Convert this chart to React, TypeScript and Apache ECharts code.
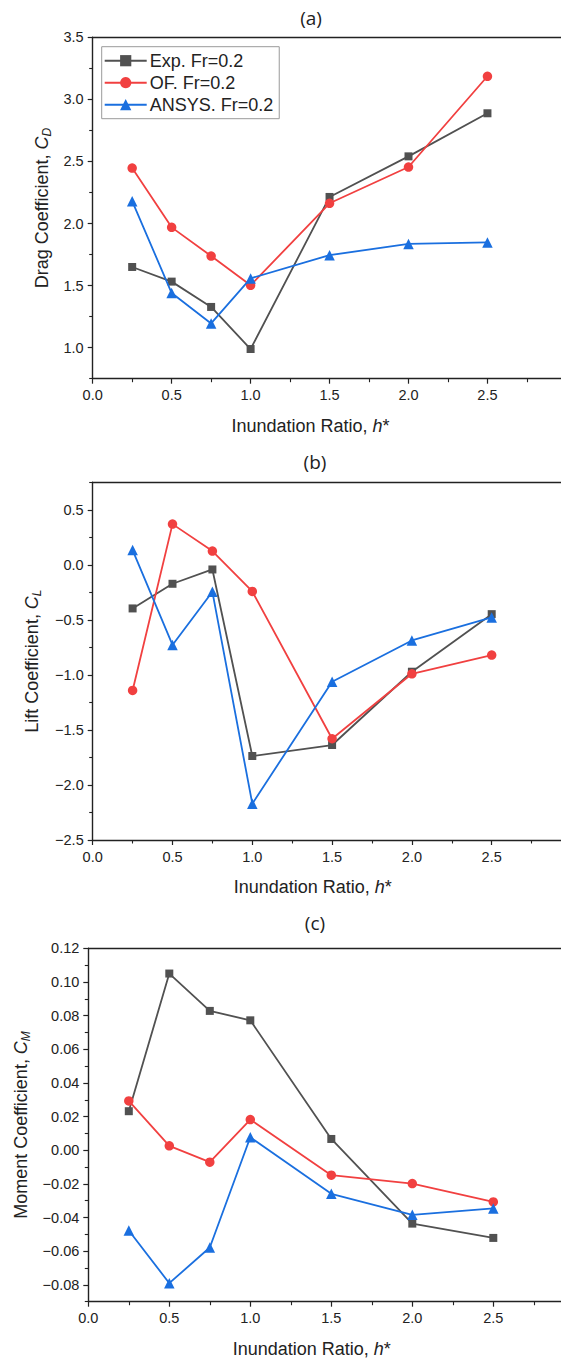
import React, { useEffect, useRef } from "react";
import * as echarts from "echarts";

const hRatio = [0.25, 0.5, 0.75, 1.0, 1.5, 2.0, 2.5];

const dragExp = [1.65, 1.532, 1.328, 0.989, 2.214, 2.541, 2.888];
const dragOF = [2.447, 1.969, 1.738, 1.502, 2.163, 2.455, 3.186];
const dragANSYS = [2.18, 1.44, 1.195, 1.558, 1.745, 1.836, 1.848];

const liftExp = [-0.396, -0.172, -0.042, -1.737, -1.637, -0.971, -0.448];
const liftOF = [-1.141, 0.37, 0.125, -0.242, -1.58, -0.99, -0.82];
const liftANSYS = [0.134, -0.728, -0.245, -2.17, -1.062, -0.687, -0.478];

const momExp = [0.0232, 0.105, 0.0828, 0.0772, 0.0067, -0.0436, -0.0521];
const momOF = [0.0293, 0.0026, -0.0071, 0.0182, -0.0148, -0.0198, -0.0307];
const momANSYS = [-0.0477, -0.079, -0.0578, 0.0077, -0.0259, -0.0384, -0.0346];

const xMajor = [0, 0.5, 1.0, 1.5, 2.0, 2.5, 3.0];
const xLabels = [0, 0.5, 1.0, 1.5, 2.0, 2.5];
const xMinor = [0.25, 0.75, 1.25, 1.75, 2.25, 2.75];
const dragMajor = [1.0, 1.5, 2.0, 2.5, 3.0, 3.5];
const dragMinor = [0.75, 1.25, 1.75, 2.25, 2.75, 3.25];
const liftMajor = [-2.5, -2.0, -1.5, -1.0, -0.5, 0.0, 0.5];
const liftMinor = [-2.25, -1.75, -1.25, -0.75, -0.25, 0.25, 0.75];
const momMajor = [-0.08, -0.06, -0.04, -0.02, 0.0, 0.02, 0.04, 0.06, 0.08, 0.1, 0.12];
const momMinor = [-0.09, -0.07, -0.05, -0.03, -0.01, 0.01, 0.03, 0.05, 0.07, 0.09, 0.11];

const seriesNames = ["Exp. Fr=0.2", "OF. Fr=0.2", "ANSYS. Fr=0.2"];
const colors = ["#515151", "#F14040", "#1A6FDF"];
const symbols = ["rect", "circle", "triangle"];
const symbolSizes = [8, 9.5, 10.5];

const FONT = "Liberation Sans";
const AX = "#222";
const XMAX = 3.1;

function fmt(v: number, d: number) {
  const s = v.toFixed(d);
  return v < 0 ? "\u2212" + s.slice(1) : s;
}

export default function App() {
  const ref = useRef<HTMLDivElement>(null);
  useEffect(() => {
    if (!ref.current) return;
    const chart = echarts.init(ref.current, undefined, { renderer: "svg" });

    // pixel per unit of h* in each panel
    const units = [157.9, 159.6, 162];
    const nameTarget = [310.5, 312.8, 311.7];
    const grids = [
      { left: 92.7, top: 37.3, height: 341.4 },
      { left: 92.7, top: 482.3, height: 357.7 },
      { left: 88.3, top: 948.3, height: 353.4 },
    ].map((g, k) => ({ ...g, width: units[k] * XMAX }));
    const yDefs = [
      { min: 0.75, max: 3.5, major: dragMajor, minor: dragMinor, dec: 1, label: "Drag Coefficient, ", sub: "D", gap: 40 },
      { min: -2.5, max: 0.75, major: liftMajor, minor: liftMinor, dec: 1, label: "Lift Coefficient, ", sub: "L", gap: 50 },
      { min: -0.09, max: 0.12, major: momMajor, minor: momMinor, dec: 2, label: "Moment Coefficient, ", sub: "M", gap: 56 },
    ];
    const data = [
      [dragExp, dragOF, dragANSYS],
      [liftExp, liftOF, liftANSYS],
      [momExp, momOF, momANSYS],
    ];

    const xAxes: any[] = [];
    const yAxes: any[] = [];
    const series: any[] = [];
    const nameRich = {
      a: { fontSize: 18, fontFamily: FONT, color: "#222", lineHeight: 22 },
      i: { fontSize: 18, fontFamily: FONT, color: "#222", fontStyle: "italic", lineHeight: 22 },
      s: { fontSize: 12, fontFamily: FONT, color: "#222", fontStyle: "italic", lineHeight: 12, verticalAlign: "bottom" },
    };
    grids.forEach((g, k) => {
      const y = yDefs[k];
      const shift = 2 * (g.left + g.width / 2 - nameTarget[k]);
      xAxes.push({
        type: "value", gridIndex: k, min: 0, max: XMAX, position: "bottom",
        axisLine: { show: true, onZero: false, lineStyle: { color: AX, width: 1.4 } },
        axisTick: { show: true, inside: false, length: 5, customValues: xMajor, lineStyle: { color: AX, width: 1.2 } },
        axisLabel: { customValues: xLabels, formatter: (v: number) => fmt(v, 1), fontSize: 14.5, fontFamily: FONT, color: "#222", margin: 9 },
        splitLine: { show: false },
        name: "{a|Inundation Ratio, }{i|h}{a|*}",
        nameLocation: "middle", nameGap: 36,
        nameTextStyle: { rich: nameRich, padding: [0, shift, 0, 0] },
      });
      xAxes.push({
        type: "value", gridIndex: k, min: 0, max: XMAX, position: "top",
        axisLine: { show: true, onZero: false, lineStyle: { color: AX, width: 1.4 } },
        axisTick: { show: false },
        axisLabel: { show: false },
        splitLine: { show: false },
      });
      xAxes.push({
        type: "value", gridIndex: k, min: 0, max: XMAX, position: "bottom",
        axisLine: { show: false, onZero: false },
        axisTick: { show: true, length: 3.5, customValues: xMinor, lineStyle: { color: AX, width: 1.1 } },
        axisLabel: { show: false },
        splitLine: { show: false },
      });
      yAxes.push({
        type: "value", gridIndex: k, min: y.min, max: y.max, position: "left",
        axisLine: { show: true, onZero: false, lineStyle: { color: AX, width: 1.4 } },
        axisTick: { show: true, length: 5, customValues: y.major, lineStyle: { color: AX, width: 1.2 } },
        axisLabel: { customValues: y.major, formatter: (v: number) => fmt(v, y.dec), fontSize: 14.5, fontFamily: FONT, color: "#222", margin: 9 },
        splitLine: { show: false },
        name: "{a|" + y.label + "}{i|C}{s|" + y.sub + "}",
        nameLocation: "middle", nameGap: y.gap, nameRotate: 90,
        nameTextStyle: { rich: nameRich },
      });
      yAxes.push({
        type: "value", gridIndex: k, min: y.min, max: y.max, position: "left",
        axisLine: { show: false, onZero: false },
        axisTick: { show: true, length: 3.5, customValues: y.minor, lineStyle: { color: AX, width: 1.1 } },
        axisLabel: { show: false },
        splitLine: { show: false },
      });
      data[k].forEach((vals, j) => {
        series.push({
          type: "line",
          name: seriesNames[j],
          xAxisIndex: 3 * k, yAxisIndex: 2 * k,
          data: hRatio.map((h, i) => [h, vals[i]]),
          symbol: symbols[j], symbolSize: symbolSizes[j],
          lineStyle: { color: colors[j], width: 1.8 },
          itemStyle: { color: colors[j] },
          z: 3 + j,
        });
      });
    });

    const option: any = {
      animation: false,
      backgroundColor: "#fff",
      grid: grids.map((g) => ({
        ...g, show: false, containLabel: false, outerBoundsMode: "none",
      })),
      xAxis: xAxes,
      yAxis: yAxes,
      series,
      legend: {
        data: seriesNames,
        orient: "vertical",
        left: 101.7, top: 46.7,
        padding: [4, 6, 4, 2],
        itemGap: 2,
        itemWidth: 42, itemHeight: 14,
        backgroundColor: "#fff",
        borderColor: "#9a9a9a", borderWidth: 1,
        textStyle: { fontSize: 18, fontFamily: FONT, color: "#222", lineHeight: 20, padding: [0, 0, 0, -2] },
      },
      graphic: [
        { type: "text", x: 311, y: 18, style: { text: "(a)", fontSize: 19, fontFamily: "Open Sans", fill: "#222", textAlign: "center", textVerticalAlign: "middle" } },
        { type: "text", x: 315, y: 462, style: { text: "(b)", fontSize: 19, fontFamily: "Open Sans", fill: "#222", textAlign: "center", textVerticalAlign: "middle" } },
        { type: "text", x: 315, y: 923, style: { text: "(c)", fontSize: 19, fontFamily: "Open Sans", fill: "#222", textAlign: "center", textVerticalAlign: "middle" } },
      ],
    };
    chart.setOption(option);
    return () => chart.dispose();
  }, []);
  return (
    <div style={{ position: "absolute", left: 0, top: 0, width: 561, height: 1361, overflow: "hidden" }}>
      <div ref={ref} style={{ width: 620, height: 1361 }} />
    </div>
  );
}
